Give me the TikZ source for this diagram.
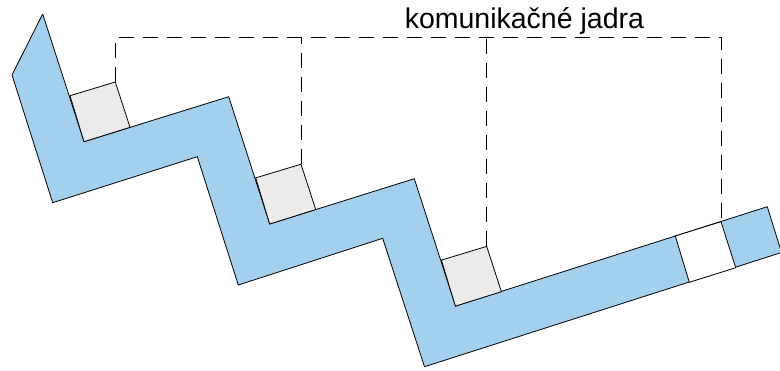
\documentclass[tikz,border=0pt]{standalone}
\usepackage{fontspec}
\setmainfont{Liberation Sans}
\usepackage{tikz}

\definecolor{stripblue}{RGB}{164,208,239}
\definecolor{coregray}{RGB}{235,235,235}

\tikzset{
	outline/.style={draw=black, line width=0.8pt, line join=miter},
	corebox/.style={outline, fill=coregray},
	guide/.style={draw=black, line width=1pt, dash pattern=on 15pt off 9pt}
}

\begin{document}
\begin{tikzpicture}[x=1pt,y=-1pt]

	\useasboundingbox (0,0) rectangle (780,370);

	% the zig-zag strip
	\fill[stripblue] (42.7,14) -- (12,75) -- (52.7,202.7) -- (197.3,156.7)
		-- (238.3,285) -- (382.7,238.3) -- (424.5,366.7) -- (781.5,252.5)
		-- (767.3,206.7) -- (455.5,306) -- (414.3,178.7) -- (269.7,224)
		-- (228.7,96.7) -- (84,141.7) -- cycle;
	\draw[outline] (42.7,14) -- (12,75) -- (52.7,202.7) -- (197.3,156.7)
		-- (238.3,285) -- (382.7,238.3) -- (424.5,366.7) -- (781.5,252.5);
	\draw[outline] (767.3,206.7) -- (455.5,306) -- (414.3,178.7) -- (269.7,224)
		-- (228.7,96.7) -- (84,141.7) -- (42.7,14);

	% free slot near the end
	\draw[outline, fill=white] (675.3,236) -- (721,221.7) -- (735.7,267.7) -- (689.3,282.3) -- cycle;
	\draw[outline] (767.3,206.7) -- (781.5,252.5);

	% cores
	\draw[corebox] (84,141.7) -- (70,95.7) -- (115.3,82) -- (130,127.3) -- cycle;
	\draw[corebox] (269.7,224) -- (255.7,177.9) -- (301,164.2) -- (315.7,209.5) -- cycle;
	\draw[corebox] (455.4,306.1) -- (441.4,260.1) -- (486.7,246.4) -- (501.4,291.7) -- cycle;

	\coordinate (c1) at (115.3,82);
	\coordinate (c2) at (301,164.2);
	\coordinate (c3) at (486.7,246.4);
	\coordinate (c4) at (721,221.7);

	% dashed guides to the label
	\draw[guide] (c1) -- (115.3,37.3) -- (721,37.3) -- (c4);
	\draw[guide] (c2) -- (301,37.3);
	\draw[guide] (c3) -- (486.7,37.3);

	\node[anchor=base, inner sep=0pt, font=\fontsize{28.5}{30}\selectfont] (title) at (524.4,28.3) {komunikačné jadra};

\end{tikzpicture}
\end{document}
